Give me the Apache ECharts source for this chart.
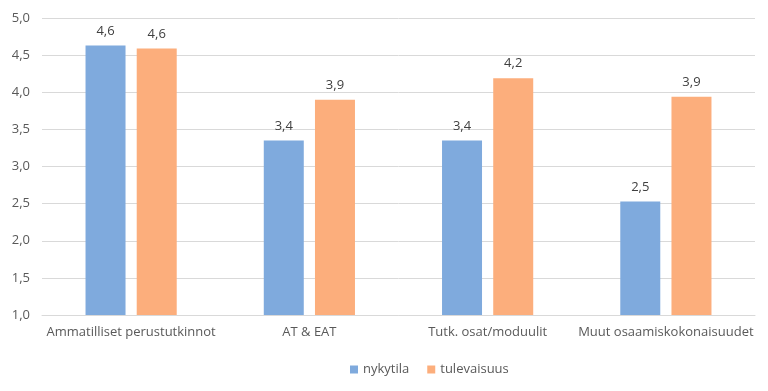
<!DOCTYPE html>
<html><head><meta charset="utf-8">
<script src="https://cdn.jsdelivr.net/npm/echarts@6/dist/echarts.min.js"></script>
<style>html,body{margin:0;padding:0;background:#fff}#c{width:768px;height:391px}</style>
</head><body><div id="c"></div>
<script>
const categories = ['Ammatilliset perustutkinnot', 'AT & EAT', 'Tutk. osat/moduulit', 'Muut osaamiskokonaisuudet'];
const nykytila = [4.63, 3.35, 3.35, 2.53];
const tulevaisuus = [4.59, 3.90, 4.19, 3.94];
const seriesNames = ['nykytila', 'tulevaisuus'];
const fmt = v => (Math.round(v * 10 + 1e-6) / 10).toFixed(1).replace('.', ',');
const font = 'Open Sans';
const chart = echarts.init(document.getElementById('c'));
const lbl = {show: true, position: 'top', distance: 8, color: '#404040', fontFamily: font, fontSize: 13, formatter: p => fmt(p.value)};
chart.setOption({
  animation: false,
  grid: {left: 42, right: 13, top: 18, bottom: 76},
  legend: {data: seriesNames, left: 345, top: 358, itemWidth: 8, itemHeight: 8, itemGap: 18, icon: 'rect',
    textStyle: {color: '#595959', fontFamily: font, fontSize: 13}},
  xAxis: {type: 'category', data: categories,
    axisLine: {lineStyle: {color: '#d9d9d9'}}, axisTick: {show: false},
    axisLabel: {interval: 0, color: '#595959', fontFamily: font, fontSize: 13, margin: 11}},
  yAxis: {type: 'value', min: 1, max: 5, interval: 0.5,
    axisLine: {show: false}, axisTick: {show: false},
    splitLine: {lineStyle: {color: '#d9d9d9'}},
    axisLabel: {color: '#595959', fontFamily: font, fontSize: 13, margin: 12, formatter: v => fmt(v)}},
  series: [
    {name: seriesNames[0], type: 'bar', data: nykytila, barWidth: 40, barGap: '28%', itemStyle: {color: '#7FAADD'}, label: lbl},
    {name: seriesNames[1], type: 'bar', data: tulevaisuus, barWidth: 40, itemStyle: {color: '#FCAE7C'}, label: lbl}
  ]
});
</script></body></html>
